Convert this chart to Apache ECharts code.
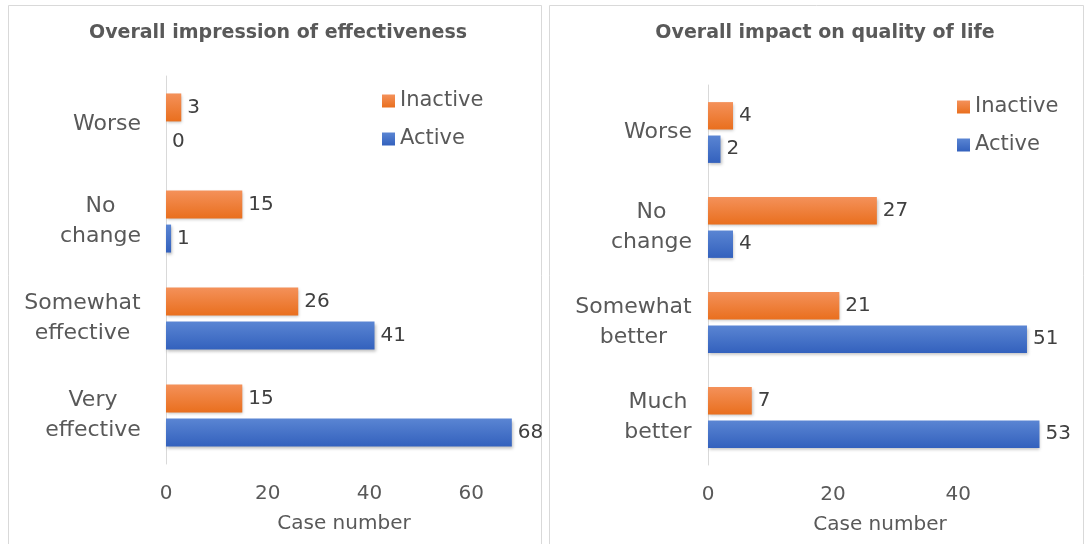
<!DOCTYPE html>
<html><head><meta charset="utf-8">
<script src="https://cdn.jsdelivr.net/npm/echarts@6/dist/echarts.min.js"></script>
<style>html,body{margin:0;padding:0;background:#fff}#c{width:1089px;height:544px}</style>
</head><body><div id="c"></div>
<script>
// ---- data ----
const leftTitle = 'Overall impression of effectiveness';
const rightTitle = 'Overall impact on quality of life';
const seriesNames = ['Inactive', 'Active'];
const leftCategories = ['Worse', 'No change', 'Somewhat effective', 'Very effective'];
const rightCategories = ['Worse', 'No change', 'Somewhat better', 'Much better'];
const leftInactive = [3, 15, 26, 15];
const leftActive = [0, 1, 41, 68];
const rightInactive = [4, 27, 21, 7];
const rightActive = [2, 4, 51, 53];
const leftTicks = [0, 20, 40, 60];
const rightTicks = [0, 20, 40];
const axisTitle = 'Case number';

// ---- styling ----
const FONT = 'DejaVu Sans';
const TEXT = '#595959';
const ctx = document.createElement('canvas').getContext('2d');
ctx.font = '22px "' + FONT + '"';
function richFor(cats) {
  const rich = {};
  cats.forEach((c, i) => {
    const lines = c.split(' ');
    const w = Math.ceil(Math.max(...lines.map(l => ctx.measureText(l).width)));
    rich['c' + i] = { width: w, align: 'center', fontSize: 22, fontFamily: FONT, color: TEXT, lineHeight: 30 };
  });
  return rich;
}
const catFormatter = (v, i) => v.split(' ').map(l => '{c' + i + '|' + l + '}').join('\n');

const orange = new echarts.graphic.LinearGradient(0, 0, 0, 1, [
  { offset: 0, color: '#F4915A' }, { offset: 1, color: '#E96F1E' }]);
const blue = new echarts.graphic.LinearGradient(0, 0, 0, 1, [
  { offset: 0, color: '#5A85D3' }, { offset: 1, color: '#3361BD' }]);
const colors = { Inactive: orange, Active: blue };

function xAxis(gridIndex, max, ticks) {
  return {
    gridIndex, type: 'value', min: 0, max, interval: 20,
    splitLine: { show: false }, axisLine: { show: false }, axisTick: { show: false },
    axisLabel: { fontSize: 20, fontFamily: FONT, color: TEXT, margin: 20,
      formatter: v => ticks.includes(v) ? String(v) : '' },
    name: axisTitle, nameLocation: 'middle', nameGap: 50,
    nameTextStyle: { fontSize: 20, fontFamily: FONT, color: TEXT }
  };
}
function yAxis(gridIndex, cats, margin) {
  return {
    gridIndex, type: 'category', inverse: true, data: cats,
    axisLine: { show: true, lineStyle: { color: '#d9d9d9', width: 1 } },
    axisTick: { show: false },
    axisLabel: { margin, formatter: catFormatter, rich: richFor(cats) }
  };
}
function bar(name, data, idx) {
  return {
    type: 'bar', name, data, xAxisIndex: idx, yAxisIndex: idx,
    barCategoryGap: '36%', barGap: '22%',
    itemStyle: { color: colors[name], shadowColor: 'rgba(0,0,0,0.25)', shadowBlur: 3, shadowOffsetX: 1, shadowOffsetY: 2 },
    label: { show: true, position: 'right', distance: 6, fontSize: 20, fontFamily: FONT, color: '#404040' },
    emphasis: { disabled: true }
  };
}
function legend(left, top) {
  return {
    data: seriesNames, orient: 'vertical', left, top, icon: 'rect',
    itemWidth: 13, itemHeight: 13, itemGap: 14,
    textStyle: { fontSize: 21, fontFamily: FONT, color: TEXT, lineHeight: 24 }
  };
}

const chart = echarts.init(document.getElementById('c'), null, { renderer: 'canvas' });
chart.setOption({
  animation: false,
  backgroundColor: '#fff',
  textStyle: { fontFamily: FONT },
  graphic: [
    { type: 'rect', silent: true, shape: { x: 8.5, y: 5.5, width: 533, height: 600 }, style: { fill: 'none', stroke: '#d9d9d9', lineWidth: 1 } },
    { type: 'rect', silent: true, shape: { x: 549.5, y: 5.5, width: 534, height: 600 }, style: { fill: 'none', stroke: '#d9d9d9', lineWidth: 1 } }
  ],
  title: [
    { text: leftTitle, left: 278, top: 24, textAlign: 'center', padding: 0,
      textStyle: { fontSize: 19, fontWeight: 'bold', fontFamily: FONT, color: TEXT } },
    { text: rightTitle, left: 825, top: 24, textAlign: 'center', padding: 0,
      textStyle: { fontSize: 19, fontWeight: 'bold', fontFamily: FONT, color: TEXT } }
  ],
  legend: [legend(377, 84), legend(952, 90)],
  grid: [
    { left: 166, top: 76, width: 356, height: 388 },
    { left: 708, top: 85, width: 344, height: 380 }
  ],
  xAxis: [xAxis(0, 70, leftTicks), xAxis(1, 55, rightTicks)],
  yAxis: [yAxis(0, leftCategories, 25), yAxis(1, rightCategories, 16)],
  series: [
    bar('Inactive', leftInactive, 0), bar('Active', leftActive, 0),
    bar('Inactive', rightInactive, 1), bar('Active', rightActive, 1)
  ]
});
</script>
</body></html>
